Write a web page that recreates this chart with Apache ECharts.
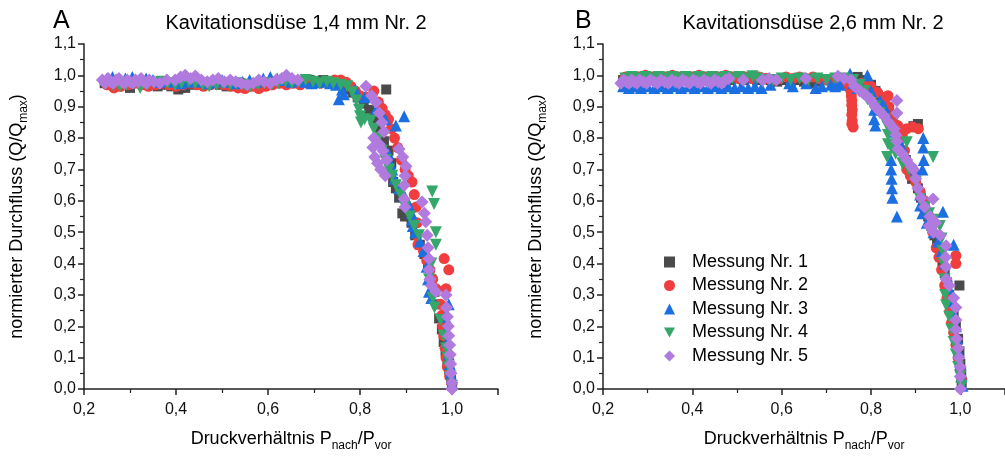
<!DOCTYPE html>
<html><head><meta charset="utf-8">
<script src="https://cdn.jsdelivr.net/npm/echarts@6/dist/echarts.min.js"></script>
<style>html,body{margin:0;padding:0;background:#fff}#c{width:1005px;height:457px}</style>
</head><body><div id="c"></div>
<script>
var seriesNames = ['Messung Nr. 1','Messung Nr. 2','Messung Nr. 3','Messung Nr. 4','Messung Nr. 5'];
var panelTitles = ['Kavitationsdüse 1,4 mm Nr. 2','Kavitationsdüse 2,6 mm Nr. 2'];
var panelLetters = ['A','B'];
var xTicks = [0.2,0.4,0.6,0.8,1.0];
var yTicks = [0,0.1,0.2,0.3,0.4,0.5,0.6,0.7,0.8,0.9,1.0,1.1];

// Panel A
var a1 = [[0.245,0.975],[0.258,0.98],[0.272,0.965],[0.285,0.975],[0.30,0.96],[0.315,0.975],[0.33,0.97],[0.345,0.975],[0.36,0.965],[0.375,0.97],[0.39,0.965],[0.405,0.955],[0.42,0.96],[0.435,0.97],[0.45,0.975],[0.465,0.97],[0.48,0.975],[0.495,0.97],[0.51,0.965],[0.525,0.97],[0.54,0.975],[0.555,0.97],[0.57,0.975],[0.585,0.97],[0.60,0.975],[0.615,0.98],[0.63,0.975],[0.645,0.98],[0.66,0.975],[0.675,0.98],[0.69,0.985],[0.705,0.98],[0.72,0.985],[0.735,0.98],[0.75,0.975],[0.765,0.965],[0.775,0.955],[0.785,0.945],[0.795,0.93],[0.808,0.91],[0.82,0.89],[0.832,0.86],[0.842,0.83],[0.857,0.955],[0.852,0.79],[0.862,0.76],[0.868,0.72],[0.872,0.66],[0.878,0.64],[0.885,0.61],[0.892,0.56],[0.898,0.55],[0.905,0.575],[0.912,0.53],[0.92,0.49],[0.93,0.46],[0.94,0.43],[0.948,0.39],[0.955,0.35],[0.962,0.31],[0.968,0.27],[0.972,0.225],[0.978,0.19],[0.982,0.15],[0.986,0.12],[0.99,0.09],[0.994,0.06],[0.998,0.03],[1.0,0.01]];
var a2 = [[0.25,0.97],[0.265,0.96],[0.28,0.965],[0.295,0.97],[0.31,0.975],[0.325,0.97],[0.34,0.965],[0.355,0.97],[0.37,0.975],[0.385,0.97],[0.40,0.965],[0.415,0.97],[0.43,0.975],[0.445,0.97],[0.46,0.965],[0.475,0.97],[0.49,0.975],[0.505,0.97],[0.52,0.965],[0.535,0.96],[0.55,0.958],[0.565,0.965],[0.58,0.958],[0.595,0.965],[0.61,0.97],[0.625,0.975],[0.64,0.97],[0.655,0.975],[0.67,0.97],[0.685,0.975],[0.70,0.98],[0.715,0.975],[0.73,0.98],[0.745,0.985],[0.758,0.985],[0.77,0.978],[0.78,0.965],[0.79,0.95],[0.80,0.935],[0.813,0.93],[0.83,0.95],[0.84,0.915],[0.848,0.895],[0.855,0.875],[0.862,0.86],[0.868,0.83],[0.875,0.80],[0.882,0.77],[0.89,0.73],[0.898,0.70],[0.905,0.68],[0.913,0.66],[0.918,0.62],[0.922,0.58],[0.924,0.53],[0.924,0.49],[0.926,0.46],[0.938,0.44],[0.945,0.41],[0.952,0.38],[0.958,0.35],[0.965,0.32],[0.983,0.416],[0.993,0.38],[0.987,0.32],[0.975,0.27],[0.978,0.235],[0.98,0.20],[0.982,0.17],[0.985,0.13],[0.987,0.10],[0.99,0.07],[0.995,0.04],[1.0,0.015]];
var a3 = [[0.25,0.99],[0.262,0.995],[0.275,0.985],[0.29,0.99],[0.305,0.995],[0.32,0.985],[0.335,0.99],[0.35,0.985],[0.365,0.98],[0.38,0.985],[0.395,0.98],[0.41,0.975],[0.425,0.98],[0.44,0.985],[0.455,0.98],[0.47,0.975],[0.485,0.98],[0.50,0.985],[0.515,0.98],[0.53,0.975],[0.545,0.98],[0.56,0.985],[0.575,0.98],[0.59,0.99],[0.605,0.995],[0.62,0.99],[0.635,0.985],[0.65,0.98],[0.665,0.985],[0.68,0.98],[0.695,0.975],[0.705,0.978],[0.72,0.98],[0.735,0.975],[0.748,0.97],[0.754,0.924],[0.761,0.955],[0.765,0.94],[0.79,0.955],[0.81,0.93],[0.835,0.89],[0.855,0.86],[0.878,0.84],[0.896,0.87],[0.862,0.75],[0.866,0.72],[0.87,0.70],[0.875,0.67],[0.885,0.64],[0.895,0.62],[0.902,0.60],[0.908,0.58],[0.912,0.56],[0.913,0.54],[0.915,0.52],[0.92,0.50],[0.93,0.47],[0.938,0.44],[0.945,0.39],[0.948,0.35],[0.95,0.31],[0.955,0.29],[0.993,0.27],[0.985,0.23],[0.988,0.19],[0.99,0.15],[0.993,0.11],[0.995,0.08],[0.997,0.05],[1.0,0.02]];
var a4 = [[0.248,0.975],[0.262,0.97],[0.278,0.965],[0.292,0.97],[0.308,0.975],[0.322,0.96],[0.338,0.97],[0.352,0.975],[0.368,0.98],[0.382,0.975],[0.398,0.97],[0.412,0.975],[0.428,0.98],[0.442,0.975],[0.458,0.97],[0.472,0.965],[0.488,0.97],[0.502,0.975],[0.518,0.97],[0.532,0.975],[0.548,0.97],[0.562,0.965],[0.578,0.97],[0.592,0.975],[0.608,0.97],[0.622,0.975],[0.638,0.98],[0.652,0.975],[0.668,0.98],[0.682,0.985],[0.698,0.98],[0.712,0.975],[0.728,0.98],[0.742,0.975],[0.758,0.97],[0.772,0.965],[0.783,0.946],[0.792,0.92],[0.798,0.89],[0.80,0.87],[0.802,0.85],[0.81,0.86],[0.823,0.855],[0.83,0.83],[0.84,0.80],[0.848,0.76],[0.855,0.73],[0.863,0.70],[0.87,0.68],[0.878,0.65],[0.888,0.62],[0.898,0.58],[0.908,0.55],[0.918,0.52],[0.928,0.49],[0.957,0.63],[0.961,0.59],[0.965,0.50],[0.965,0.46],[0.955,0.40],[0.95,0.35],[0.958,0.29],[0.962,0.26],[0.975,0.22],[0.982,0.17],[0.987,0.13],[0.99,0.10],[0.993,0.07],[0.997,0.04],[1.0,0.01]];
var a5 = [[0.24,0.985],[0.246,0.975],[0.252,0.99],[0.258,0.98],[0.264,0.975],[0.27,0.985],[0.276,0.99],[0.282,0.98],[0.288,0.975],[0.294,0.985],[0.30,0.98],[0.306,0.975],[0.312,0.985],[0.318,0.98],[0.324,0.99],[0.33,0.98],[0.336,0.975],[0.342,0.985],[0.352,0.98],[0.365,0.975],[0.38,0.985],[0.398,0.985],[0.41,0.995],[0.42,1.0],[0.432,0.99],[0.442,0.998],[0.455,0.985],[0.468,0.98],[0.48,0.985],[0.492,0.99],[0.505,0.98],[0.518,0.985],[0.53,0.98],[0.542,0.975],[0.555,0.97],[0.568,0.975],[0.58,0.985],[0.592,0.98],[0.605,0.975],[0.618,0.985],[0.63,0.99],[0.64,1.0],[0.652,0.99],[0.665,0.985],[0.813,0.965],[0.825,0.935],[0.835,0.914],[0.842,0.88],[0.848,0.85],[0.852,0.82],[0.83,0.80],[0.828,0.77],[0.832,0.74],[0.838,0.72],[0.845,0.70],[0.85,0.76],[0.855,0.68],[0.858,0.73],[0.842,0.78],[0.885,0.765],[0.893,0.74],[0.9,0.71],[0.898,0.68],[0.896,0.65],[0.896,0.606],[0.898,0.58],[0.935,0.596],[0.94,0.56],[0.943,0.533],[0.946,0.49],[0.948,0.45],[0.95,0.415],[0.95,0.38],[0.952,0.35],[0.955,0.33],[0.965,0.31],[0.987,0.30],[0.988,0.26],[0.99,0.23],[0.992,0.20],[0.993,0.17],[0.995,0.14],[0.996,0.11],[0.997,0.08],[0.998,0.05],[1.0,0.02],[1.0,0.0]];

// Panel B
var b1 = [[0.245,0.985],[0.26,0.99],[0.275,0.985],[0.29,0.99],[0.305,0.985],[0.32,0.99],[0.335,0.985],[0.35,0.99],[0.365,0.985],[0.38,0.99],[0.395,0.985],[0.41,0.99],[0.425,0.985],[0.44,0.99],[0.455,0.985],[0.47,0.99],[0.485,0.985],[0.50,0.99],[0.515,0.985],[0.53,0.99],[0.545,0.985],[0.56,0.99],[0.575,0.985],[0.59,0.98],[0.605,0.985],[0.62,0.98],[0.635,0.985],[0.65,0.98],[0.665,0.975],[0.68,0.98],[0.695,0.985],[0.71,0.985],[0.725,0.98],[0.74,0.985],[0.755,0.99],[0.77,0.995],[0.785,0.985],[0.80,0.97],[0.81,0.95],[0.82,0.93],[0.83,0.91],[0.84,0.88],[0.848,0.85],[0.855,0.82],[0.862,0.79],[0.87,0.76],[0.878,0.73],[0.885,0.70],[0.892,0.67],[0.895,0.838],[0.905,0.845],[0.905,0.64],[0.912,0.61],[0.92,0.58],[0.928,0.55],[0.935,0.52],[0.942,0.49],[0.948,0.46],[0.955,0.43],[0.96,0.40],[0.965,0.37],[0.97,0.34],[0.998,0.33],[0.975,0.30],[0.98,0.27],[0.985,0.24],[0.99,0.20],[0.995,0.16],[0.998,0.12],[1.0,0.08],[1.002,0.05],[1.003,0.02]];
var b2 = [[0.25,0.995],[0.265,0.99],[0.28,0.995],[0.295,1.0],[0.31,0.995],[0.325,0.99],[0.34,0.995],[0.355,1.0],[0.37,0.995],[0.385,0.99],[0.40,0.995],[0.415,1.0],[0.43,0.995],[0.445,0.99],[0.46,0.995],[0.475,1.0],[0.49,0.995],[0.505,0.99],[0.52,0.995],[0.535,0.99],[0.55,0.995],[0.565,0.99],[0.58,0.985],[0.595,0.99],[0.61,0.995],[0.625,0.99],[0.64,0.995],[0.655,0.99],[0.67,0.995],[0.685,0.99],[0.70,0.985],[0.715,0.98],[0.73,0.975],[0.745,0.97],[0.752,0.96],[0.755,0.95],[0.756,0.935],[0.757,0.92],[0.757,0.905],[0.758,0.89],[0.757,0.875],[0.758,0.855],[0.757,0.845],[0.76,0.835],[0.78,0.975],[0.80,0.965],[0.815,0.945],[0.829,0.924],[0.838,0.935],[0.84,0.90],[0.85,0.87],[0.86,0.84],[0.87,0.81],[0.88,0.83],[0.893,0.835],[0.906,0.83],[0.875,0.76],[0.878,0.72],[0.88,0.70],[0.888,0.68],[0.9,0.66],[0.91,0.63],[0.92,0.60],[0.93,0.55],[0.938,0.50],[0.946,0.45],[0.952,0.42],[0.99,0.425],[0.99,0.40],[0.958,0.38],[0.965,0.33],[0.97,0.29],[0.976,0.247],[0.98,0.21],[0.985,0.18],[0.99,0.14],[0.995,0.10],[1.0,0.06],[1.003,0.03]];
var b3 = [[0.245,0.965],[0.258,0.96],[0.272,0.965],[0.285,0.96],[0.30,0.965],[0.315,0.96],[0.33,0.965],[0.345,0.96],[0.36,0.965],[0.375,0.96],[0.39,0.965],[0.405,0.96],[0.42,0.965],[0.435,0.96],[0.45,0.965],[0.465,0.96],[0.48,0.965],[0.495,0.96],[0.51,0.965],[0.525,0.96],[0.54,0.965],[0.555,0.96],[0.575,0.97],[0.617,0.975],[0.625,0.965],[0.655,0.975],[0.676,0.96],[0.69,0.965],[0.71,0.97],[0.72,0.965],[0.73,0.97],[0.753,1.005],[0.76,0.975],[0.77,0.96],[0.792,1.0],[0.78,0.965],[0.80,0.95],[0.807,0.89],[0.807,0.86],[0.81,0.84],[0.82,0.92],[0.83,0.90],[0.838,0.87],[0.845,0.73],[0.845,0.70],[0.846,0.67],[0.847,0.64],[0.848,0.61],[0.858,0.55],[0.85,0.82],[0.86,0.79],[0.87,0.77],[0.88,0.74],[0.9,0.70],[0.917,0.80],[0.917,0.77],[0.918,0.73],[0.915,0.70],[0.91,0.62],[0.91,0.585],[0.915,0.56],[0.925,0.53],[0.961,0.565],[0.94,0.50],[0.95,0.47],[0.958,0.44],[0.985,0.46],[0.965,0.40],[0.97,0.36],[0.975,0.32],[0.98,0.28],[0.985,0.24],[0.99,0.20],[0.993,0.16],[0.996,0.12],[1.0,0.08],[1.002,0.04],[1.005,0.01]];
var b4 = [[0.25,0.99],[0.265,0.995],[0.28,0.99],[0.295,0.995],[0.31,0.99],[0.325,0.995],[0.34,0.99],[0.355,0.995],[0.37,0.99],[0.385,0.995],[0.40,0.99],[0.415,0.995],[0.43,0.99],[0.445,0.995],[0.46,0.99],[0.475,0.995],[0.49,0.99],[0.505,0.995],[0.52,0.99],[0.535,0.997],[0.545,0.99],[0.56,0.985],[0.58,0.985],[0.60,0.99],[0.62,0.985],[0.64,0.99],[0.66,0.985],[0.68,0.99],[0.70,0.985],[0.72,0.99],[0.74,0.99],[0.76,0.985],[0.775,0.97],[0.785,0.95],[0.792,0.924],[0.80,0.91],[0.81,0.90],[0.82,0.88],[0.83,0.86],[0.836,0.84],[0.838,0.81],[0.838,0.78],[0.836,0.74],[0.845,0.77],[0.855,0.75],[0.88,0.787],[0.87,0.72],[0.885,0.70],[0.939,0.74],[0.9,0.66],[0.91,0.606],[0.92,0.58],[0.93,0.56],[0.94,0.54],[0.954,0.52],[0.958,0.48],[0.96,0.44],[0.962,0.40],[0.965,0.35],[0.966,0.30],[0.968,0.267],[0.975,0.23],[0.98,0.19],[0.985,0.15],[0.99,0.11],[0.995,0.07],[1.0,0.04],[1.003,0.01]];
var b5 = [[0.24,0.975],[0.246,0.985],[0.252,0.98],[0.258,0.975],[0.264,0.985],[0.27,0.98],[0.276,0.975],[0.282,0.985],[0.29,0.98],[0.298,0.975],[0.306,0.985],[0.314,0.98],[0.322,0.975],[0.33,0.985],[0.338,0.98],[0.346,0.975],[0.354,0.985],[0.362,0.98],[0.37,0.975],[0.378,0.985],[0.386,0.98],[0.394,0.975],[0.402,0.985],[0.41,0.98],[0.418,0.975],[0.426,0.985],[0.434,0.98],[0.442,0.975],[0.45,0.985],[0.458,0.98],[0.466,0.975],[0.474,0.985],[0.482,0.99],[0.514,0.985],[0.557,0.985],[0.572,0.99],[0.588,0.985],[0.654,0.99],[0.726,0.997],[0.74,0.99],[0.755,0.985],[0.763,0.965],[0.775,0.95],[0.785,0.94],[0.792,0.933],[0.80,0.92],[0.81,0.90],[0.82,0.885],[0.83,0.87],[0.84,0.85],[0.858,0.92],[0.858,0.88],[0.852,0.83],[0.856,0.81],[0.858,0.79],[0.86,0.765],[0.87,0.75],[0.88,0.73],[0.89,0.71],[0.895,0.70],[0.9,0.67],[0.905,0.64],[0.912,0.61],[0.939,0.606],[0.92,0.58],[0.932,0.55],[0.93,0.52],[0.94,0.50],[0.945,0.53],[0.955,0.49],[0.968,0.457],[0.967,0.42],[0.968,0.39],[0.968,0.35],[0.975,0.33],[0.985,0.29],[0.99,0.26],[0.99,0.22],[0.99,0.19],[0.992,0.16],[0.995,0.13],[0.997,0.10],[1.0,0.07],[1.0,0.04],[1.0,0.0]];

var panelData = [[a1,a2,a3,a4,a5],[b1,b2,b3,b4,b5]];
var colors = ['#4a4a4a','#f03e3e','#1b6fe0','#36a76a','#b07ade'];
var symbols = ['rect','circle','triangle','path://M0,0 L10,0 L5,9 Z','diamond'];
var sizes = [10,11,12,12,13];
var FONT = 'Liberation Sans, Arial, sans-serif';

function fmt(v){ return (Math.round(v*10)/10).toFixed(1).replace('.', ','); }

var chart = echarts.init(document.getElementById('c'), null, {renderer:'canvas'});
var grids = [
  {left:84, top:44, width:414, height:347},
  {left:603, top:44, width:411, height:347}
];
var xAxes = [], yAxes = [], series = [], titles = [];
var richName = {
  a:{fontSize:18, fontFamily:FONT, color:'#000', lineHeight:20, verticalAlign:'top'},
  s:{fontSize:12, fontFamily:FONT, color:'#000', lineHeight:12, padding:[10,0,0,0], verticalAlign:'top'}
};
for (var p=0;p<2;p++){
  xAxes.push({
    gridIndex:p, type:'value', min:xTicks[0], max:1.1, interval:0.2,
    name:'{a|Druckverhältnis P}{s|nach}{a|/P}{s|vor}', nameLocation:'middle', nameGap:41,
    nameTextStyle:{rich:richName},
    axisLine:{show:true, onZero:false, lineStyle:{color:'#222', width:1.5}},
    axisTick:{show:true, length:6, lineStyle:{color:'#222', width:1.5}},
    minorTick:{show:true, splitNumber:2, length:4, lineStyle:{color:'#222', width:1.2}},
    splitLine:{show:false},
    axisLabel:{formatter:fmt, fontSize:16, color:'#111', fontFamily:FONT, margin:13, showMaxLabel:false}
  });
  yAxes.push({
    gridIndex:p, type:'value', min:0, max:1.1, interval:0.1,
    name:'{a|normierter Durchfluss (Q/Q}{s|max}{a|)}', nameLocation:'middle', nameGap:56,
    nameTextStyle:{rich:richName},
    axisLine:{show:true, onZero:false, lineStyle:{color:'#222', width:1.5}},
    axisTick:{show:true, length:6, lineStyle:{color:'#222', width:1.5}},
    minorTick:{show:true, splitNumber:2, length:4, lineStyle:{color:'#222', width:1.2}},
    splitLine:{show:false},
    axisLabel:{formatter:fmt, fontSize:16, color:'#111', fontFamily:FONT, margin:8}
  });
  for (var s=0;s<5;s++){
    series.push({
      name:seriesNames[s], type:'scatter', xAxisIndex:p, yAxisIndex:p,
      data:panelData[p][s], symbol:symbols[s], symbolSize:sizes[s],
      itemStyle:{color:colors[s], opacity:1}, emphasis:{disabled:true}, animation:false
    });
  }
}
titles.push({text:panelLetters[0], left:48, top:4, textStyle:{fontSize:25, fontWeight:'normal', color:'#000', fontFamily:FONT}});
titles.push({text:panelTitles[0], left:291, textAlign:'center', top:8, textStyle:{fontSize:20, fontWeight:'normal', color:'#000', fontFamily:FONT}});
titles.push({text:panelLetters[1], left:570, top:4, textStyle:{fontSize:25, fontWeight:'normal', color:'#000', fontFamily:FONT}});
titles.push({text:panelTitles[1], left:808, textAlign:'center', top:8, textStyle:{fontSize:20, fontWeight:'normal', color:'#000', fontFamily:FONT}});

chart.setOption({
  animation:false,
  backgroundColor:'#fff',
  title:titles,
  grid:grids,
  xAxis:xAxes,
  yAxis:yAxes,
  legend:{
    data:seriesNames.map(function(n,i){return {name:n, icon:symbols[i]};}),
    orient:'vertical', left:659, top:248, itemWidth:11, itemHeight:11, itemGap:5.5,
    textStyle:{fontSize:18, color:'#000', fontFamily:FONT, padding:[0,0,0,12]},
    selectedMode:false
  },
  series:series
});
</script></body></html>
